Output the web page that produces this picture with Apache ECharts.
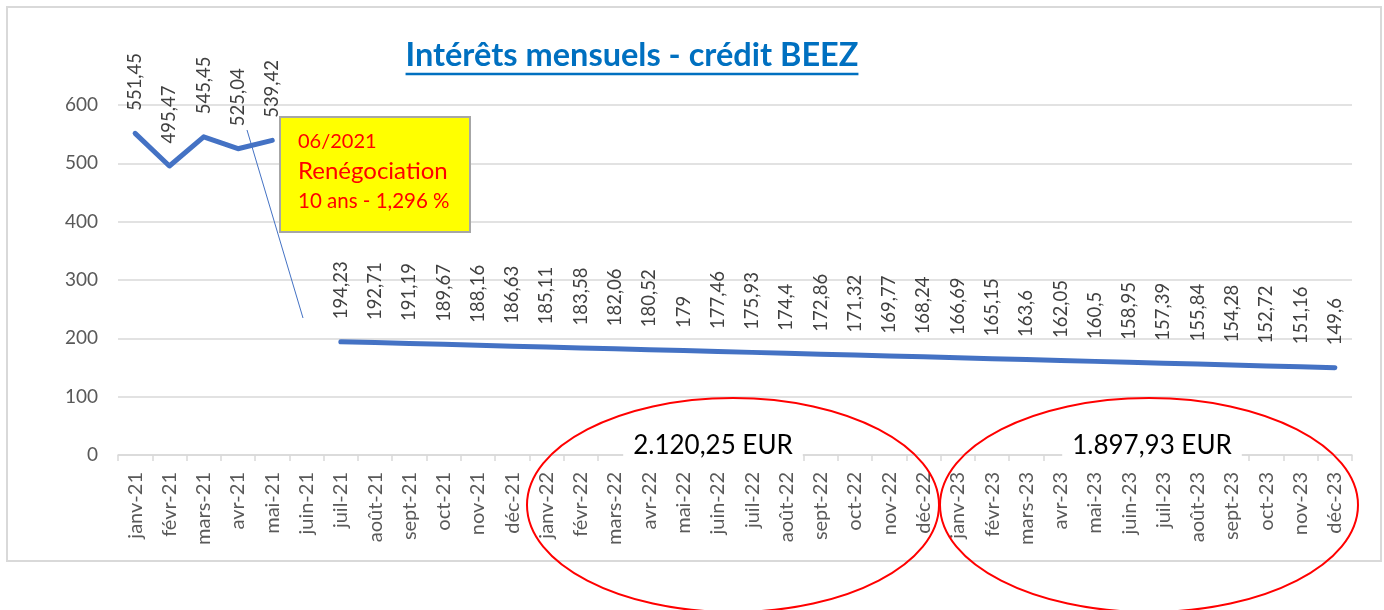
<!DOCTYPE html>
<html>
<head>
<meta charset="utf-8">
<script src="https://cdn.jsdelivr.net/npm/echarts@6/dist/echarts.min.js"></script>
<style>
  html, body { margin: 0; padding: 0; background: #fff; }
  #chart_container { width: 1384px; height: 610px; }
</style>
</head>
<body>
<div id="chart_container"></div>
<script>
const months = ["janv-21", "févr-21", "mars-21", "avr-21", "mai-21", "juin-21", "juil-21", "août-21", "sept-21", "oct-21", "nov-21", "déc-21",
  "janv-22", "févr-22", "mars-22", "avr-22", "mai-22", "juin-22", "juil-22", "août-22", "sept-22", "oct-22", "nov-22", "déc-22",
  "janv-23", "févr-23", "mars-23", "avr-23", "mai-23", "juin-23", "juil-23", "août-23", "sept-23", "oct-23", "nov-23", "déc-23"];

const interets = [551.45, 495.47, 545.45, 525.04, 539.42, null,
  194.23, 192.71, 191.19, 189.67, 188.16, 186.63,
  185.11, 183.58, 182.06, 180.52, 179, 177.46, 175.93, 174.4, 172.86, 171.32, 169.77, 168.24,
  166.69, 165.15, 163.6, 162.05, 160.5, 158.95, 157.39, 155.84, 154.28, 152.72, 151.16, 149.6];

const titleText = "Intérêts mensuels - crédit BEEZ";
const noteLines = ["06/2021", "Renégociation", "10 ans - 1,296 %"];
const total2022 = "2.120,25 EUR";
const total2023 = "1.897,93 EUR";

const font = "Lato, 'Noto Sans', sans-serif";

function textWidth(txt, css) {
  const ctx = document.createElement("canvas").getContext("2d");
  ctx.font = css;
  return ctx.measureText(txt).width;
}

document.addEventListener("DOMContentLoaded", function () {
  const chart = echarts.init(document.getElementById("chart_container"));

  const titleFont = "bold 32.5px Lato";
  const titleW = textWidth(titleText, titleFont);

  const option = {
    backgroundColor: "#fff",
    animation: false,
    grid: { left: 118, right: 32, top: 105, bottom: 155 },
    xAxis: {
      type: "category",
      data: months,
      boundaryGap: true,
      axisLine: { lineStyle: { color: "#D9D9D9", width: 1.5 } },
      axisTick: { show: true, length: 6, lineStyle: { color: "#D9D9D9", width: 1.5 } },
      axisLabel: { rotate: 90, interval: 0, color: "#595959", fontSize: 20, fontFamily: font, margin: 17 }
    },
    yAxis: {
      type: "value",
      min: 0, max: 600, interval: 100,
      axisLine: { show: false },
      axisTick: { show: false },
      axisLabel: { color: "#595959", fontSize: 19, fontFamily: font, margin: 20 },
      splitLine: { lineStyle: { color: "#D9D9D9", width: 1.5 } }
    },
    series: [{
      type: "line",
      data: interets,
      connectNulls: false,
      showSymbol: true,
      symbol: "circle",
      symbolSize: 1,
      itemStyle: { color: "rgba(0,0,0,0)" },
      lineStyle: { color: "#4472C4", width: 5, cap: "round", join: "round" },
      label: {
        show: true,
        position: "top",
        rotate: 90,
        align: "left",
        verticalAlign: "middle",
        distance: 22,
        color: "#404040",
        fontSize: 18.5,
        fontFamily: font,
        formatter: p => String(p.value).replace(".", ",")
      },
      labelLayout: { hideOverlap: false },
      z: 3
    }],
    graphic: [
      // chart border
      { type: "rect", shape: { x: 7, y: 7, width: 1374, height: 554 }, style: { fill: null, stroke: "#D9D9D9", lineWidth: 2 }, z: 0 },
      // title
      { type: "text", x: 632, y: 56, style: { text: titleText, font: titleFont, fill: "#0070C0", align: "center", verticalAlign: "middle" }, z: 10 },
      { type: "line", shape: { x1: 632 - titleW / 2, y1: 74, x2: 632 + titleW / 2, y2: 74 }, style: { stroke: "#0070C0", lineWidth: 2.5 }, z: 10 },
      // pointer line
      { type: "line", shape: { x1: 247, y1: 130, x2: 303, y2: 318 }, style: { stroke: "#4472C4", lineWidth: 1 }, z: 9 },
      // note box
      { type: "rect", shape: { x: 280, y: 117, width: 190, height: 115 }, style: { fill: "#FFFF00", stroke: "#A6A6A6", lineWidth: 2 }, z: 10 },
      { type: "text", x: 298, y: 142, style: { text: noteLines[0], font: "20px Lato", fill: "#FF0000", verticalAlign: "middle" }, z: 11 },
      { type: "text", x: 298, y: 171, style: { text: noteLines[1], font: "24px Lato", fill: "#FF0000", verticalAlign: "middle" }, z: 11 },
      { type: "text", x: 298, y: 201, style: { text: noteLines[2], font: "20.5px Lato", fill: "#FF0000", verticalAlign: "middle" }, z: 11 },
      // totals
      { type: "text", x: 713, y: 446, style: { text: total2022, font: "26px Lato", fill: "#000", align: "center", verticalAlign: "middle", backgroundColor: "#fff", padding: [2, 10, 4, 10] }, z: 10 },
      { type: "text", x: 1152, y: 446, style: { text: total2023, font: "26px Lato", fill: "#000", align: "center", verticalAlign: "middle", backgroundColor: "#fff", padding: [2, 10, 4, 10] }, z: 10 },
      // ellipses
      { type: "ellipse", shape: { cx: 733, cy: 505, rx: 206, ry: 107 }, style: { fill: null, stroke: "#FF0000", lineWidth: 2 }, z: 12 },
      { type: "ellipse", shape: { cx: 1149, cy: 505, rx: 209, ry: 107 }, style: { fill: null, stroke: "#FF0000", lineWidth: 2 }, z: 12 }
    ]
  };

  chart.setOption(option);
});
</script>
</body>
</html>
